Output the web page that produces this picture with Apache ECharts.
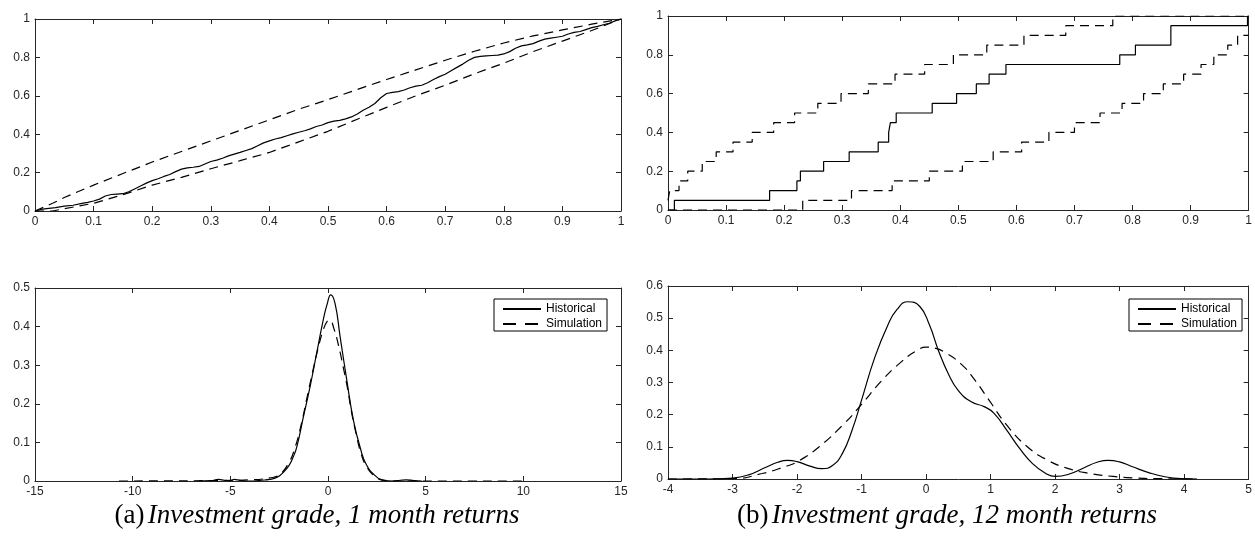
<!DOCTYPE html>
<html>
<head>
<meta charset="utf-8">
<script src="https://cdn.jsdelivr.net/npm/echarts@6/dist/echarts.min.js"></script>
<style>
  html, body { margin: 0; padding: 0; background: #fff; }
  #chart { width: 1255px; height: 539px; }
</style>
</head>
<body>
<div id="chart"></div>
<script>
// ---- (a) top: P-P plot of 1 month returns with confidence band ----
const ppMonthX = [0, 0.01, 0.02, 0.035, 0.05, 0.065, 0.08, 0.09, 0.1, 0.11, 0.12, 0.13, 0.14, 0.15, 0.16, 0.17, 0.18, 0.19, 0.2,
  0.21, 0.22, 0.23, 0.24, 0.25, 0.26, 0.27, 0.28, 0.29, 0.3, 0.31, 0.32, 0.33, 0.34, 0.35, 0.36, 0.37, 0.38, 0.39, 0.4,
  0.41, 0.42, 0.43, 0.44, 0.45, 0.46, 0.47, 0.48, 0.49, 0.5, 0.51, 0.52, 0.53, 0.54, 0.55, 0.56, 0.57, 0.58, 0.59, 0.6,
  0.61, 0.62, 0.63, 0.64, 0.65, 0.66, 0.67, 0.68, 0.69, 0.7, 0.71, 0.72, 0.73, 0.74, 0.75, 0.76, 0.77, 0.78, 0.79, 0.8,
  0.81, 0.82, 0.83, 0.84, 0.85, 0.86, 0.87, 0.88, 0.89, 0.9, 0.91, 0.92, 0.93, 0.94, 0.95, 0.96, 0.97, 0.98, 0.99, 1];
const ppMonthY = [0, 0.008, 0.012, 0.018, 0.025, 0.03, 0.04, 0.045, 0.052, 0.062, 0.078, 0.086, 0.088, 0.09, 0.1, 0.115, 0.13, 0.145, 0.158,
  0.168, 0.18, 0.19, 0.205, 0.218, 0.225, 0.228, 0.232, 0.245, 0.258, 0.265, 0.275, 0.287, 0.296, 0.305, 0.315, 0.325, 0.34, 0.355, 0.365,
  0.375, 0.382, 0.392, 0.402, 0.41, 0.418, 0.428, 0.44, 0.448, 0.46, 0.468, 0.472, 0.48, 0.49, 0.505, 0.525, 0.54, 0.56, 0.59, 0.612,
  0.618, 0.622, 0.63, 0.642, 0.65, 0.655, 0.668, 0.685, 0.7, 0.712, 0.73, 0.748, 0.765, 0.785, 0.8, 0.805, 0.808, 0.81, 0.812, 0.818,
  0.83, 0.848, 0.86, 0.865, 0.872, 0.885, 0.895, 0.9, 0.905, 0.91, 0.922, 0.93, 0.935, 0.945, 0.955, 0.962, 0.97, 0.978, 0.99, 1];
const bandMonthX = [0, 0.03, 0.05, 0.1, 0.15, 0.2, 0.25, 0.3, 0.35, 0.4, 0.45, 0.5, 0.55, 0.6, 0.65, 0.7, 0.75, 0.8, 0.85, 0.9, 0.95, 1];
const bandMonthUpper = [0, 0.04, 0.07, 0.135, 0.195, 0.255, 0.31, 0.365, 0.42, 0.475, 0.53, 0.58, 0.633, 0.685, 0.735, 0.785, 0.832, 0.875, 0.912, 0.943, 0.973, 1];
const bandMonthLower = [0, 0, 0.012, 0.04, 0.085, 0.135, 0.175, 0.22, 0.262, 0.305, 0.36, 0.415, 0.478, 0.54, 0.6, 0.655, 0.715, 0.77, 0.83, 0.885, 0.94, 1];

// ---- (b) top: empirical P-P steps of 12 month returns with band ----
const ppYearX = [0, 0.011, 0.175, 0.222, 0.228, 0.268, 0.312, 0.362, 0.380, 0.383, 0.393, 0.455, 0.497, 0.531, 0.553, 0.582, 0.778, 0.805, 0.866, 0.998, 1];
const ppYearY = [0, 0.05, 0.10, 0.15, 0.20, 0.25, 0.30, 0.35, 0.40, 0.45, 0.50, 0.55, 0.60, 0.65, 0.70, 0.75, 0.80, 0.85, 0.95, 1.0, 1.0];
const bandYearUpperX = [0, 0.003, 0.019, 0.034, 0.059, 0.083, 0.112, 0.145, 0.182, 0.218, 0.258, 0.298, 0.345, 0.391, 0.442, 0.4915, 0.549, 0.613, 0.685, 0.766, 1];
const bandYearUpperY = [0.05, 0.10, 0.15, 0.20, 0.25, 0.30, 0.35, 0.40, 0.45, 0.50, 0.55, 0.60, 0.65, 0.70, 0.75, 0.80, 0.85, 0.90, 0.95, 1.0, 1.0];
const bandYearLowerX = [0, 0.232, 0.316, 0.386, 0.45, 0.507, 0.56, 0.609, 0.656, 0.70, 0.744, 0.782, 0.819, 0.853, 0.888, 0.918, 0.94, 0.964, 0.981, 1];
const bandYearLowerY = [0, 0.05, 0.10, 0.15, 0.20, 0.25, 0.30, 0.35, 0.40, 0.45, 0.50, 0.55, 0.60, 0.65, 0.70, 0.75, 0.80, 0.85, 0.90, 0.90];

// ---- (a) bottom: densities of 1 month returns ----
const histMonthX = [-6.6, -6, -5.6, -5.3, -5.0, -4.8, -4.5, -4.2, -3.8, -3.4, -3, -2.6, -2.3, -2.0, -1.8, -1.6, -1.26, -0.92, -0.58, -0.24, -0.03, 0.14, 0.36, 0.62, 0.96, 1.3, 1.64, 1.98, 2.5, 2.9, 3.3, 3.7, 4.0, 4.4, 4.8];
const histMonthY = [0, 0.001, 0.004, 0.002, 0.001, 0.004, 0.002, 0, 0, 0.002, 0.004, 0.01, 0.022, 0.04, 0.06, 0.088, 0.166, 0.244, 0.331, 0.418, 0.461, 0.482, 0.46, 0.374, 0.262, 0.158, 0.088, 0.041, 0.01, 0.001, 0, 0.002, 0.003, 0.001, 0];
const simMonthX = [-10.7, -6, -4, -3, -2.5, -2.0, -1.7, -1.4, -1.1, -0.8, -0.5, -0.25, -0.05, 0.1, 0.3, 0.53, 0.8, 1.0, 1.2, 1.45, 1.7, 2.0, 2.4, 2.8, 3.5, 10.2];
const simMonthY = [0, 0.001, 0.003, 0.008, 0.016, 0.048, 0.085, 0.14, 0.21, 0.28, 0.345, 0.39, 0.413, 0.416, 0.395, 0.353, 0.29, 0.24, 0.18, 0.12, 0.07, 0.035, 0.012, 0.003, 0, 0];

// ---- (b) bottom: densities of 12 month returns ----
const histYearX = [-4, -3.4, -3, -2.75, -2.5, -2.3, -2.15, -2.0, -1.8, -1.62, -1.45, -1.3, -1.15, -1.0, -0.8, -0.6, -0.45, -0.28, -0.1, 0.05, 0.2,
  0.35, 0.5, 0.7, 0.9, 1.05, 1.25, 1.45, 1.65, 1.85, 2.0, 2.2, 2.45, 2.65, 2.82, 3.0, 3.2, 3.45, 3.7, 3.95, 4.2];
const histYearY = [0, 0.0, 0.003, 0.013, 0.035, 0.052, 0.058, 0.054, 0.04, 0.032, 0.042, 0.078, 0.15, 0.245, 0.375, 0.475, 0.527, 0.551, 0.537, 0.48, 0.395,
  0.325, 0.275, 0.24, 0.225, 0.205, 0.152, 0.095, 0.048, 0.018, 0.008, 0.014, 0.035, 0.052, 0.058, 0.053, 0.038, 0.02, 0.007, 0.001, 0];
const simYearX = [-4, -3, -2.54, -2.18, -2.0, -1.67, -1.26, -1.0, -0.69, -0.38, -0.13, 0, 0.13, 0.28, 0.54, 0.74, 1.0, 1.26, 1.56, 1.87, 2.18, 2.54, 2.9, 3.26, 3.62, 4.2];
const simYearY = [0, 0.001, 0.017, 0.039, 0.053, 0.098, 0.174, 0.232, 0.305, 0.365, 0.401, 0.41, 0.407, 0.395, 0.358, 0.312, 0.238, 0.165, 0.102, 0.06, 0.034, 0.017, 0.008, 0.003, 0.001, 0];

// axis ranges: [min, max, interval]
const ppRangeX = [0, 1, 0.1];
const ppRangeY = [0, 1, 0.2];
const monthRangeX = [-15, 15, 5];
const monthRangeY = [0, 0.5, 0.1];
const yearRangeX = [-4, 5, 1];
const yearRangeY = [0, 0.6, 0.1];

const captionA = 'Investment grade, 1 month returns';
const captionB = 'Investment grade, 12 month returns';
const legendNames = ['Historical', 'Simulation'];

const AXIS_COLOR = '#262626';
const LABEL_FONT = 'Liberation Sans';
const DASH = [9, 6];
const LEGEND_DASH = [13, 9];

const zip = (xs, ys) => xs.map((x, i) => [x, ys[i]]);

const grids = [
  { left: 35, top: 19, width: 586, height: 192 },
  { left: 668, top: 16, width: 586, height: 194 },
  { left: 35, top: 288, width: 586, height: 193 },
  { left: 668, top: 286, width: 586, height: 193 }
];
const ranges = [
  [ppRangeX, ppRangeY],
  [ppRangeX, ppRangeY],
  [monthRangeX, monthRangeY],
  [yearRangeX, yearRangeY]
];

function axis(kind, gridIndex, r, position, labelled) {
  return {
    type: 'value', gridIndex, position,
    min: r[0], max: r[1], interval: r[2],
    axisLine: { show: true, onZero: false, lineStyle: { color: AXIS_COLOR, width: 1 } },
    axisTick: { show: true, inside: true, length: 5, lineStyle: { color: AXIS_COLOR, width: 1 } },
    axisLabel: {
      show: labelled, margin: 5, color: AXIS_COLOR,
      fontFamily: LABEL_FONT, fontSize: 12, showMinLabel: true, showMaxLabel: true
    },
    splitLine: { show: false }
  };
}

const xAxes = [], yAxes = [];
ranges.forEach((r, g) => {
  xAxes.push(axis('x', g, r[0], 'bottom', true));
  xAxes.push(axis('x', g, r[0], 'top', false));
  yAxes.push(axis('y', g, r[1], 'left', true));
  yAxes.push(axis('y', g, r[1], 'right', false));
});

function line(name, g, data, dashed, step) {
  const s = {
    type: 'line', name, xAxisIndex: 2 * g, yAxisIndex: 2 * g, data,
    symbol: 'none', animation: false, silent: true,
    itemStyle: { color: '#000' },
    lineStyle: { color: '#000', width: 1.2, type: dashed ? DASH : 'solid' }
  };
  if (step) s.step = 'end';
  else if (g >= 2) s.smooth = 0.5;
  return s;
}

const series = [
  line('P-P 1m', 0, zip(ppMonthX, ppMonthY), false),
  line('Upper 1m', 0, zip(bandMonthX, bandMonthUpper), true),
  line('Lower 1m', 0, zip(bandMonthX, bandMonthLower), true),
  line('P-P 12m', 1, zip(ppYearX, ppYearY), false, true),
  line('Upper 12m', 1, zip(bandYearUpperX, bandYearUpperY), true, true),
  line('Lower 12m', 1, zip(bandYearLowerX, bandYearLowerY), true, true),
  line('Historical', 2, zip(histMonthX, histMonthY), false),
  line('Simulation', 2, zip(simMonthX, simMonthY), true),
  line('Historical', 3, zip(histYearX, histYearY), false),
  line('Simulation', 3, zip(simYearX, simYearY), true)
];

function legendBox(left, top) {
  return {
    left, top, orient: 'vertical',
    data: [
      { name: legendNames[0], lineStyle: { type: 'solid' } },
      { name: legendNames[1], lineStyle: { type: LEGEND_DASH } }
    ],
    itemWidth: 38, itemHeight: 10, itemGap: 3,
    padding: [4, 5, 1, 8],
    borderColor: '#000', borderWidth: 1, backgroundColor: '#fff',
    selectedMode: false,
    // hide the marker glyph, keep only the line sample
    itemStyle: { opacity: 0 },
    textStyle: { fontFamily: LABEL_FONT, fontSize: 12, color: '#000' }
  };
}

function caption(cx, tag, text) {
  return {
    type: 'text', x: cx, y: 516,
    style: {
      text: '{n|' + tag + '} {i|' + text + '}',
      align: 'center', verticalAlign: 'middle',
      fill: '#000',
      rich: {
        n: { fontFamily: 'Liberation Serif', fontSize: 27, fill: '#000' },
        i: { fontFamily: 'Liberation Serif', fontStyle: 'italic', fontSize: 27, fill: '#000' }
      }
    }
  };
}

const chart = echarts.init(document.getElementById('chart'), null, { renderer: 'canvas' });
chart.setOption({
  animation: false,
  backgroundColor: '#fff',
  grid: grids,
  xAxis: xAxes,
  yAxis: yAxes,
  legend: [legendBox(494, 299), legendBox(1129, 299)],
  series,
  graphic: [caption(317, '(a)', captionA), caption(947, '(b)', captionB)]
});
</script>
</body>
</html>
